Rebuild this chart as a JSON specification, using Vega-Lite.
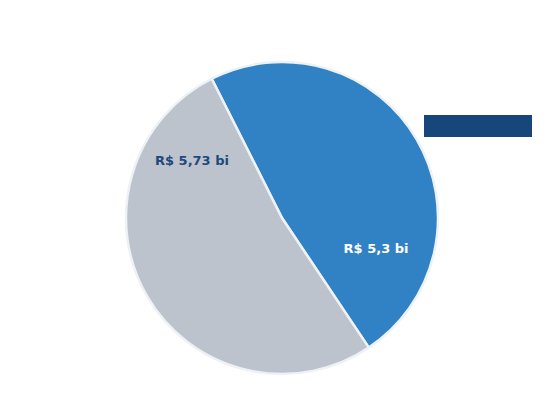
{
  "$schema": "https://vega.github.io/schema/vega-lite/v6.json",
  "width": 560,
  "height": 407,
  "autosize": {"type": "fit", "contains": "padding"},
  "padding": {"top": 29, "left": 4, "right": 0, "bottom": 0},
  "background": "white",
  "data": {
    "values": [
      {"grupo": "Grupo 1", "valor": 5.3, "rotulo": "R$ 5,3 bi"},
      {"grupo": "Grupo 2", "valor": 5.73, "rotulo": "R$ 5,73 bi"}
    ]
  },
  "encoding": {
    "theta": {"field": "valor", "type": "quantitative", "stack": true, "scale": {"range": [-0.4677, 5.8155]}},
    "order": {"field": "grupo", "sort": "ascending"}
  },
  "layer": [
    {
      "mark": {"type": "arc", "outerRadius": 156, "stroke": "#eef2f6", "strokeWidth": 2.5},
      "encoding": {
        "color": {
          "field": "grupo",
          "type": "nominal",
          "scale": {"domain": ["Grupo 1", "Grupo 2"], "range": ["#3182c4", "#bdc3cc"]},
          "legend": {
            "orient": "none",
            "legendX": 420,
            "legendY": 86,
            "title": null,
            "direction": "horizontal",
            "fillColor": "#16467a",
            "symbolOpacity": 0,
            "labelExpr": "''",
            "symbolType": "square",
            "symbolSize": 169,
            "padding": 4,
            "columnPadding": 70,
            "labelOffset": 0
          }
        }
      }
    },
    {
      "mark": {"type": "text", "radius": 99, "thetaOffset": 0.8465, "font": "DejaVu Sans", "fontWeight": "bold", "fontSize": 13, "color": "#ffffff", "align": "center", "baseline": "middle"},
      "encoding": {
        "text": {"condition": {"test": "datum.grupo === 'Grupo 1'", "field": "rotulo"}, "value": ""}
      }
    },
    {
      "mark": {"type": "text", "radius": 106.5, "thetaOffset": 1.0926, "font": "DejaVu Sans", "fontWeight": "bold", "fontSize": 13, "color": "#1d4a7d", "align": "center", "baseline": "middle"},
      "encoding": {
        "text": {"condition": {"test": "datum.grupo === 'Grupo 2'", "field": "rotulo"}, "value": ""}
      }
    }
  ]
}
